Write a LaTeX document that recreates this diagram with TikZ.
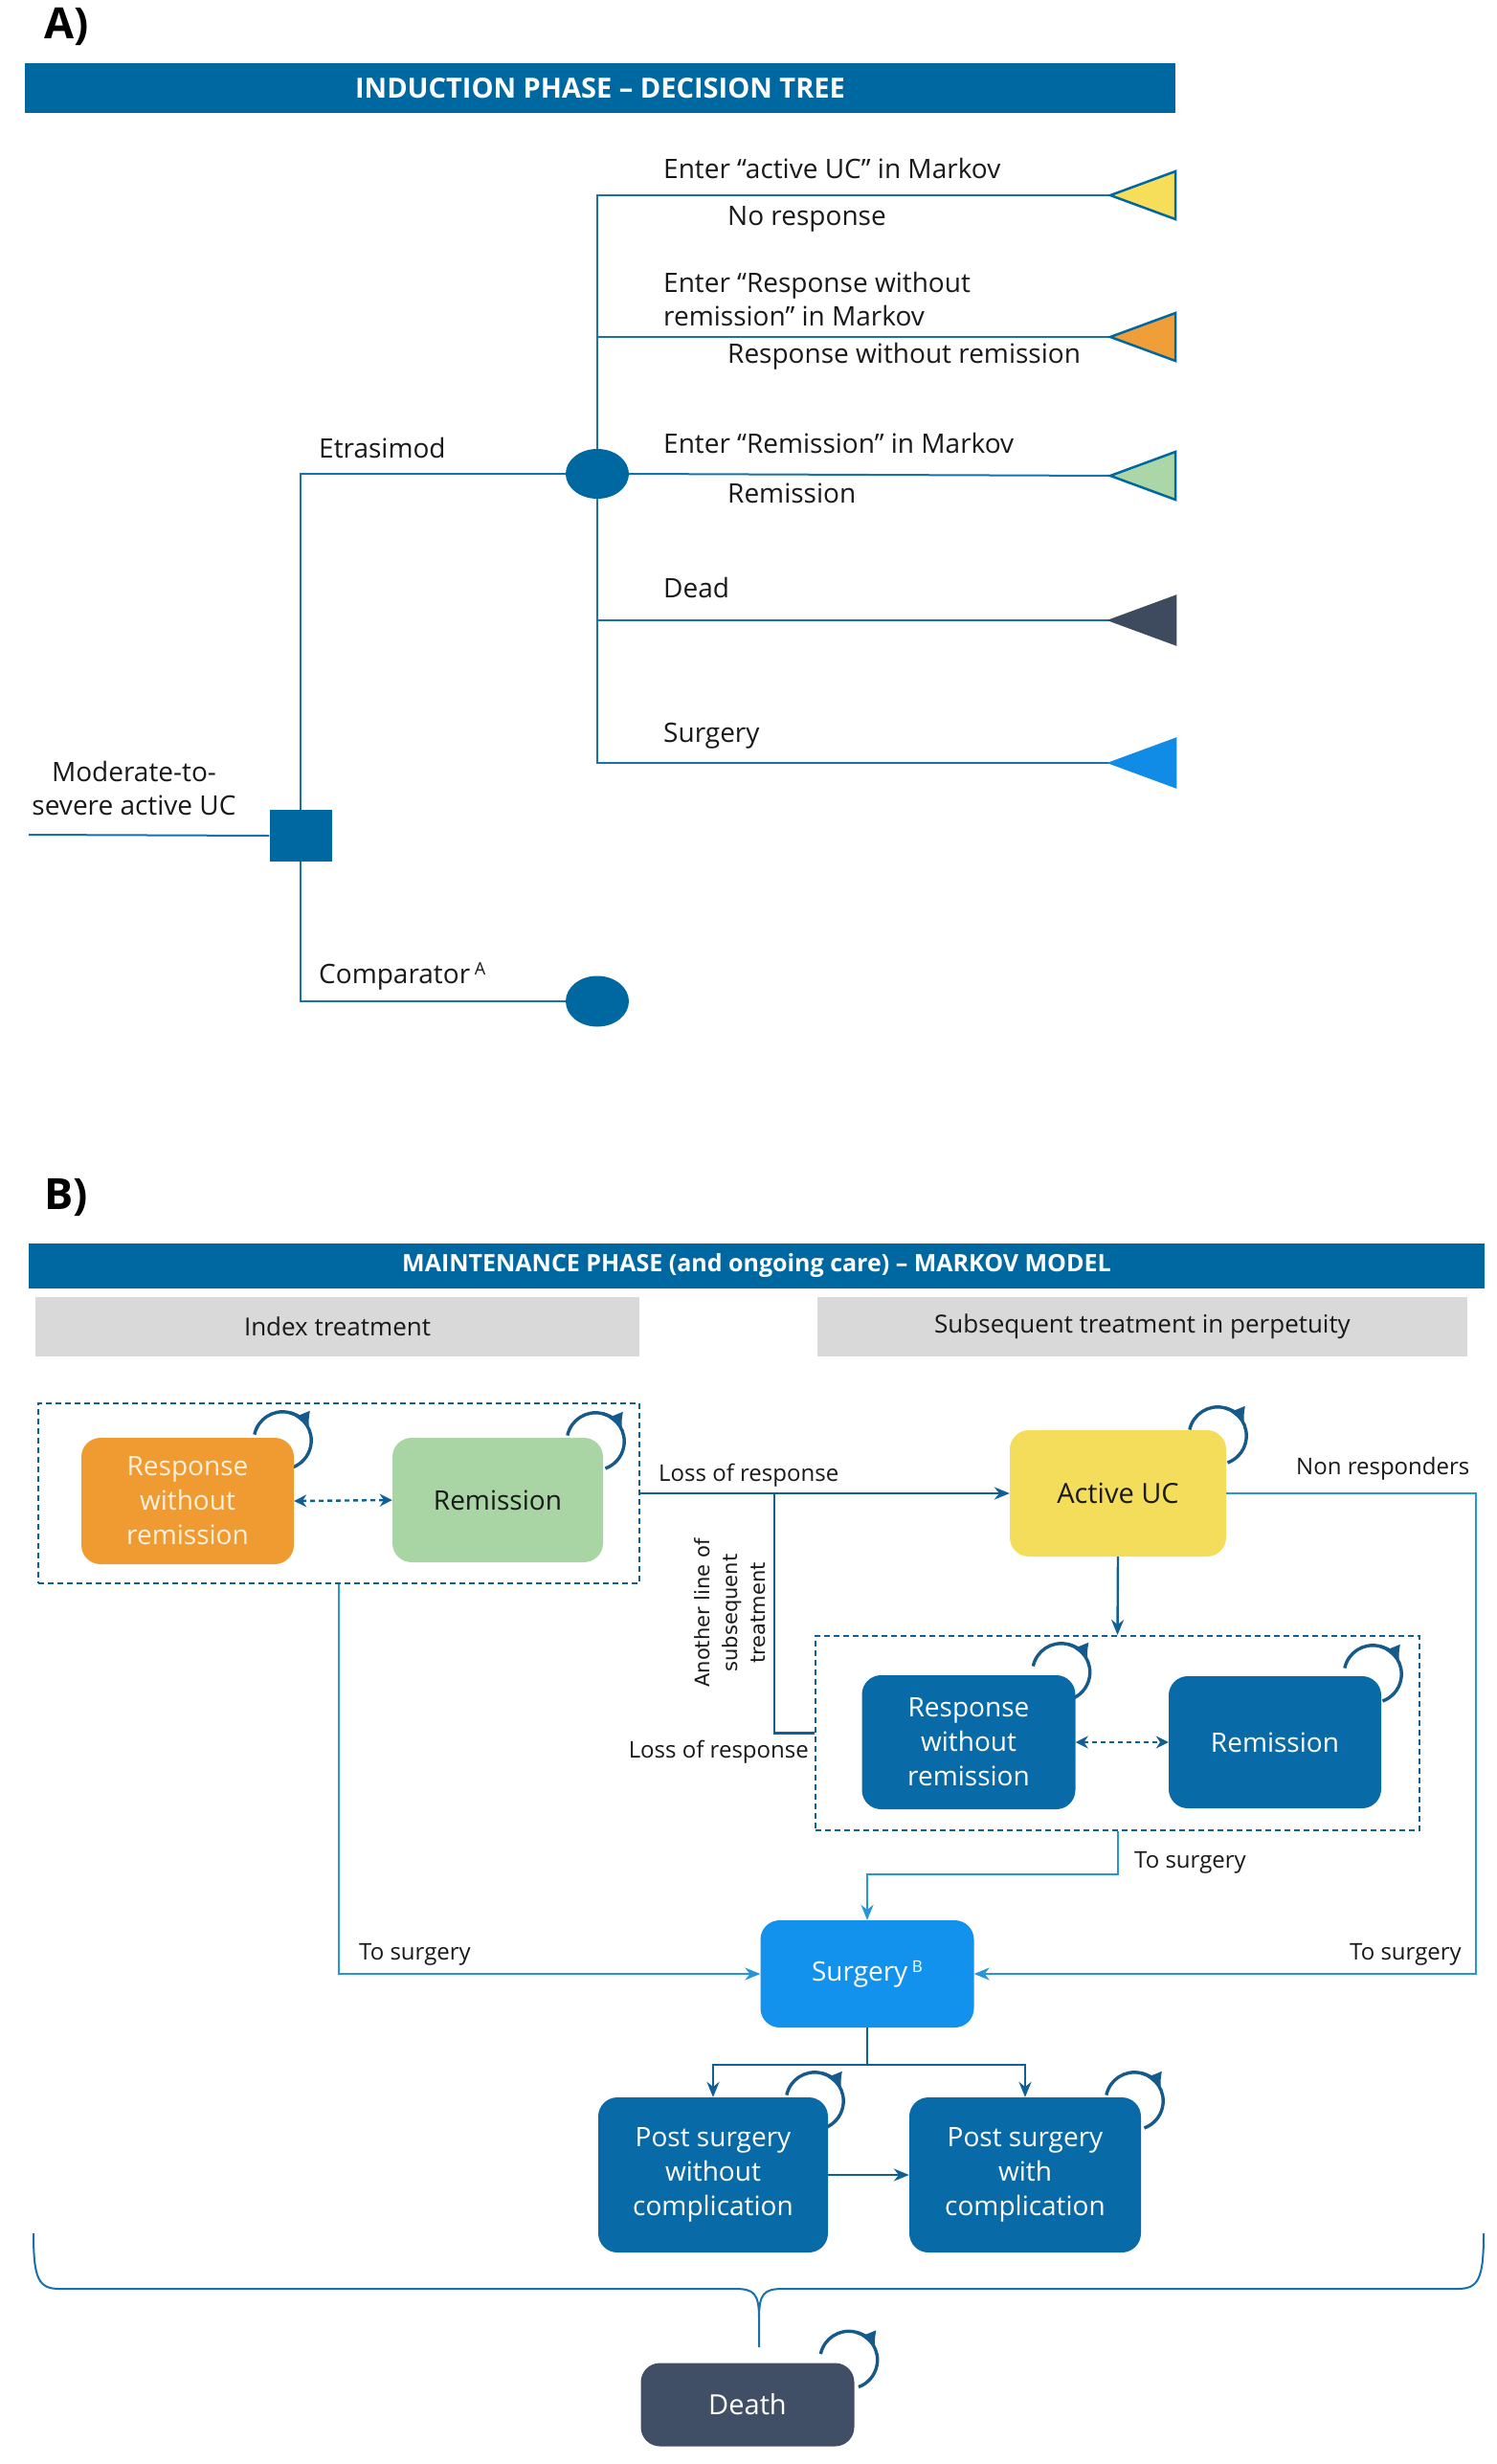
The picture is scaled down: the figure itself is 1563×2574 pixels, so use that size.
\documentclass[tikz,border=0pt]{standalone}
\usepackage{fontspec}
\setmainfont{Open Sans}
\newfontfamily\rotfont{DejaVu Sans}
\usetikzlibrary{arrows.meta,backgrounds,shapes.geometric,calc}
\definecolor{hdrblue}{RGB}{0,104,160}
\definecolor{boxblue}{RGB}{8,106,166}
\definecolor{surgblue}{RGB}{18,146,236}
\definecolor{ucyellow}{RGB}{245,221,92}
\definecolor{rworange}{RGB}{240,154,50}
\definecolor{remgreen}{RGB}{168,213,163}
\definecolor{deathgrey}{RGB}{64,79,102}
\definecolor{panelgrey}{RGB}{217,217,217}
\definecolor{treeline}{RGB}{24,112,172}
\definecolor{darkline}{RGB}{16,96,150}
\definecolor{lightline}{RGB}{38,150,216}
\definecolor{loopblue}{RGB}{22,90,140}
\definecolor{txt}{RGB}{25,25,25}
\definecolor{tyellow}{RGB}{246,221,90}
\definecolor{torange}{RGB}{240,158,56}
\definecolor{tgreen}{RGB}{170,214,168}
\definecolor{tdark}{RGB}{62,74,94}
\definecolor{tblue}{RGB}{16,140,230}
\definecolor{orangetext}{RGB}{255,241,220}
\newcommand\selfloop[3]{%
  \draw[loopstyle] ([shift={(#2,#3)}]#1.north east) ++(-168:30) arc[start angle=-168,end angle=70,radius=30];
  \draw[loopstyle,-{Latex[length=18pt,width=17pt]}] ([shift={(#2,#3)}]#1.north east) ++(-75:30) arc[start angle=-75,end angle=-22,radius=30];
}
\begin{document}
\begin{tikzpicture}[x=1pt,y=-1pt,
  lbl/.style={font=\fontsize{24}{29}\selectfont, text=txt, inner sep=0pt, yshift=-4pt},
  tlbl/.style={font=\fontsize{28}{35}\selectfont, text=txt, inner sep=0pt, yshift=-5pt},
  panel/.style={fill=panelgrey, inner sep=0pt, font=\fontsize{26}{30}\selectfont, text=txt},
  state/.style={rectangle, rounded corners=20pt, align=center, inner sep=0pt, font=\fontsize{28}{36}\selectfont},
  tline/.style={draw=treeline, line width=2pt},
  dkline/.style={draw=darkline, line width=2.4pt},
  dkarr/.style={draw=darkline, line width=2.4pt, -{Stealth[length=16pt,width=13pt]}},
  ltarr/.style={draw=lightline, line width=2pt, -{Stealth[length=16pt,width=13pt]}},
  dasharr/.style={draw=darkline, line width=2.4pt, dash pattern=on 5pt off 4pt, {Stealth[length=13pt,width=13pt]}-{Stealth[length=13pt,width=13pt]}},
  groupbox/.style={draw=darkline, line width=2pt, dash pattern=on 6pt off 4pt, inner sep=0pt},
  loopstyle/.style={draw=loopblue, line width=3.4pt},
  tri/.style={line width=2.5pt, line join=miter},
  bar/.style={fill=hdrblue, inner sep=0pt, text=white},
]
\useasboundingbox (0,0) rectangle (1563,2574);

% ---------------- Part A ----------------
\node[font=\bfseries\fontsize{45}{45}\selectfont, anchor=base west, inner sep=0pt] (labA) at (46,41) {A)};
\node[bar, minimum width=1202pt, minimum height=52pt, font=\bfseries\fontsize{29}{29}\selectfont] (hdrA) at (627,92) {INDUCTION PHASE – DECISION TREE};

\node[fill=hdrblue, minimum width=65pt, minimum height=54pt, inner sep=0pt] (dec) at (314,873) {};
\node[ellipse, fill=hdrblue, minimum width=66pt, minimum height=52pt, inner sep=0pt] (ch1) at (624,495) {};
\node[ellipse, fill=hdrblue, minimum width=66pt, minimum height=53pt, inner sep=0pt] (ch2) at (624,1046) {};

\coordinate (startA) at (30,872);
\coordinate (t1) at (1160,204);
\coordinate (t2) at (1160,352);
\coordinate (t3) at (1160,497);
\coordinate (t4) at (1160,648);
\coordinate (t5) at (1160,797);

\node[tlbl, align=center, yshift=5pt] (pop) at (140,823) {Moderate-to-\\severe active UC};
\node[tlbl, anchor=mid west] (etr) at (333,471) {Etrasimod};
\node[tlbl, anchor=mid west] (comp) at (333,1020) {Comparator\,\raisebox{0.6ex}{\fontsize{18}{18}\selectfont A}};
\node[tlbl, anchor=mid west] (l1) at (693,179) {Enter “active UC” in Markov};
\node[tlbl, anchor=mid west] (l1b) at (760,228) {No response};
\node[tlbl, anchor=west, align=left, yshift=5pt] (l2) at (693,312) {Enter “Response without\\remission” in Markov};
\node[tlbl, anchor=mid west] (l2b) at (760,372) {Response without remission};
\node[tlbl, anchor=mid west] (l3) at (693,466) {Enter “Remission” in Markov};
\node[tlbl, anchor=mid west] (l3b) at (760,518) {Remission};
\node[tlbl, anchor=mid west] (l4) at (693,617) {Dead};
\node[tlbl, anchor=mid west] (l5) at (693,768) {Surgery};

% ---------------- Part B ----------------
\node[font=\bfseries\fontsize{45}{45}\selectfont, anchor=base west, inner sep=0pt] (labB) at (46,1263) {B)};
\node[bar, minimum width=1521pt, minimum height=47pt, font=\bfseries\fontsize{25}{25}\selectfont] (hdrB) at (790.5,1322) {MAINTENANCE PHASE (and ongoing care) – MARKOV MODEL};
\node[panel, minimum width=631pt, minimum height=62pt] (pidx) at (352.5,1386) {Index treatment};
\node[panel, minimum width=679pt, minimum height=62pt] (psub) at (1193.5,1386) {Subsequent treatment in perpetuity};

\node[groupbox, minimum width=628pt, minimum height=188pt] (leftbox) at (354,1560) {};
\node[groupbox, minimum width=631pt, minimum height=203pt] (rightbox) at (1167.5,1810.5) {};

\node[state, fill=rworange, text=orangetext, minimum width=222pt, minimum height=132pt] (oRWR) at (196,1568) {Response\\without\\remission};
\node[state, fill=remgreen, text=txt, minimum width=220pt, minimum height=130pt] (gRem) at (520,1567) {Remission};
\node[state, fill=ucyellow, text=txt, minimum width=226pt, minimum height=132pt, font=\fontsize{29}{36}\selectfont] (aUC) at (1168,1560) {Active UC};
\node[state, fill=boxblue, text=white, minimum width=223pt, minimum height=140pt] (bRWR) at (1012,1820) {Response\\without\\remission};
\node[state, fill=boxblue, text=white, minimum width=222pt, minimum height=138pt] (bRem) at (1332,1820) {Remission};
\node[state, fill=surgblue, text=white, minimum width=223pt, minimum height=112pt] (surg) at (906,2062) {Surgery\,\raisebox{0.6ex}{\fontsize{17}{17}\selectfont B}};
\node[state, fill=boxblue, text=white, minimum width=240pt, minimum height=162pt] (postA) at (745,2272) {Post surgery\\without\\complication};
\node[state, fill=boxblue, text=white, minimum width=242pt, minimum height=162pt] (postB) at (1071,2272) {Post surgery\\with\\complication};
\node[state, fill=deathgrey, text=white, minimum width=223pt, minimum height=87pt, font=\fontsize{29}{36}\selectfont] (death) at (781,2512) {Death};

\coordinate (j1) at (809,1560);
\coordinate (nrc) at (1542,1560);

\node[lbl, anchor=mid west] (lr1) at (688,1541) {Loss of response};
\node[lbl, anchor=mid west] (nresp) at (1354,1534) {Non responders};
\node[lbl, anchor=mid east] (lr2) at (845,1830) {Loss of response};
\node[lbl, anchor=mid west] (ts1) at (1185,1945) {To surgery};
\node[lbl, anchor=mid west] (ts2) at (375,2041) {To surgery};
\node[lbl, anchor=mid east] (ts3) at (1527,2041) {To surgery};
\node[rotate=90, align=center, inner sep=0pt, font=\rotfont\fontsize{21}{29}\selectfont, text=txt] (another) at (763,1685) {Another line of\\subsequent\\treatment};

% ---------------- connectors (behind nodes) ----------------
\begin{pgfonlayer}{background}
\fill[white] (0,0) rectangle (1563,2574);
% tree
\draw[tline] (startA) -- (dec.west);
\draw[tline] (dec.north) |- (ch1.west);
\draw[tline] (dec.south) |- (ch2.west);
\draw[tline] (ch1.north) |- (t1);
\draw[tline] (ch1.north) |- (t2);
\draw[tline] (ch1.east) -- (t3);
\draw[tline] (ch1.south) |- (t4);
\draw[tline] (ch1.south) |- (t5);
\filldraw[tri, fill=tyellow, draw=hdrblue] (t1) -- ++(68,-25) -- ++(0,50) -- cycle;
\filldraw[tri, fill=torange, draw=hdrblue] (t2) -- ++(68,-25) -- ++(0,50) -- cycle;
\filldraw[tri, fill=tgreen, draw=hdrblue] (t3) -- ++(68,-25) -- ++(0,50) -- cycle;
\filldraw[tri, fill=tdark, draw=tdark] (t4) -- ++(68,-25) -- ++(0,50) -- cycle;
\filldraw[tri, fill=tblue, draw=tblue] (t5) -- ++(68,-25) -- ++(0,50) -- cycle;
% markov
\draw[dasharr] (oRWR.east) -- (gRem.west);
\draw[dasharr] (bRWR.east) -- (bRem.west);
\draw[dkarr] (leftbox.east |- aUC.west) -- (aUC.west);
\draw[dkline] (j1) |- (rightbox.west);
\draw[dkarr] (aUC.south) -- (rightbox.north);
\draw[ltarr] (rightbox.south) -- ++(0,45) -| (surg.north);
\draw[ltarr] (leftbox.south) |- (surg.west);
\draw[ltarr] (aUC.east) -- (nrc) |- (surg.east);
\draw[dkarr] (surg.south) -- ++(0,39) -| (postA.north);
\draw[dkarr] (surg.south) -- ++(0,39) -| (postB.north);
\draw[dkarr] (postA.east) -- (postB.west);
% self loops
\selfloop{oRWR}{-12}{3}
\selfloop{gRem}{-8}{4}
\selfloop{aUC}{-9}{6}
\selfloop{bRWR}{-15}{-3}
\selfloop{bRem}{-9}{-2}
\selfloop{postA}{-14}{4}
\selfloop{postB}{-7}{4}
\selfloop{death}{-6}{-3}
% brace
\draw[draw=treeline, line width=2pt] (35,2333) .. controls (35,2380) and (40,2391) .. (62,2391) -- (768,2391) .. controls (788,2391) and (793,2396) .. (793,2422) -- (793,2452);
\draw[draw=treeline, line width=2pt] (1550,2333) .. controls (1550,2380) and (1545,2391) .. (1523,2391) -- (818,2391) .. controls (798,2391) and (793,2396) .. (793,2422);
\end{pgfonlayer}
\end{tikzpicture}
\end{document}
